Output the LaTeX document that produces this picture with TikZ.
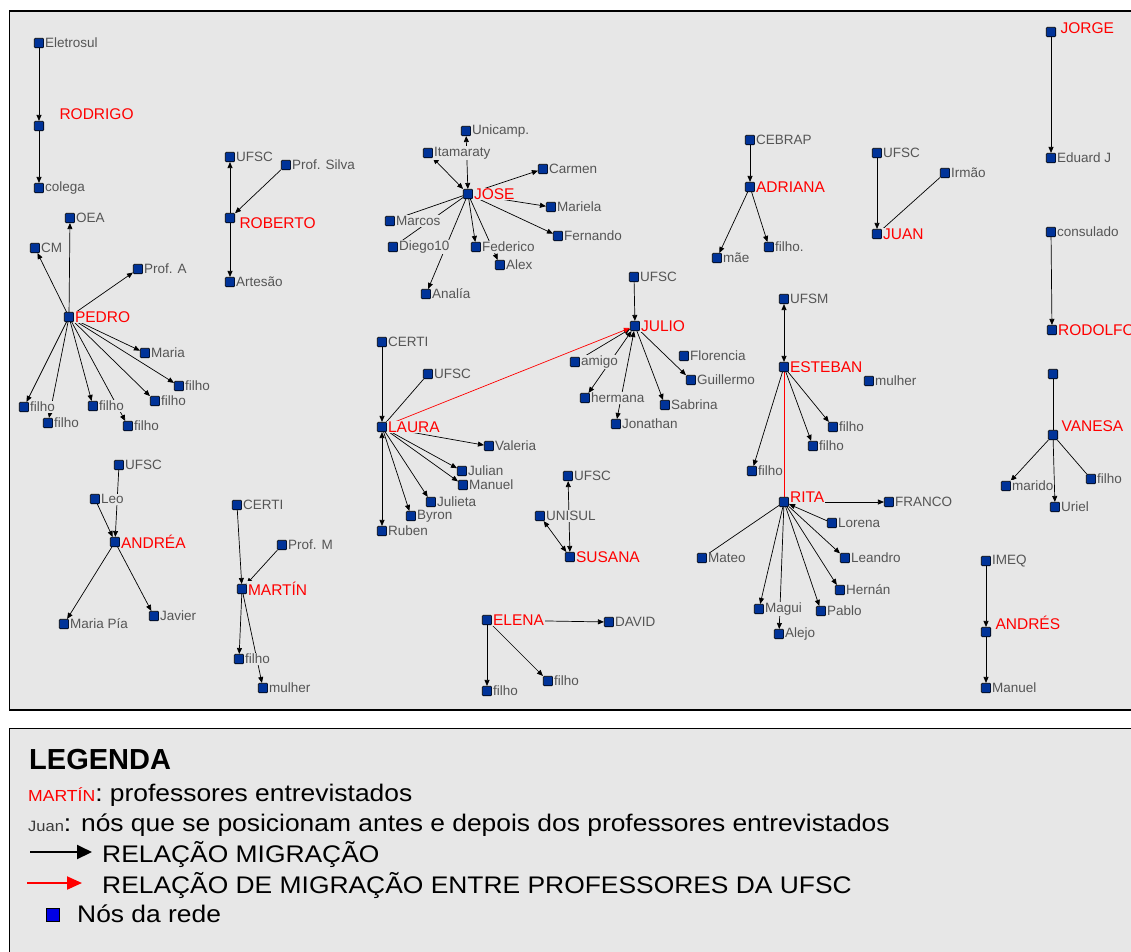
\documentclass[tikz,border=0pt]{standalone}
\usepackage{fontspec}
\setmainfont{Liberation Sans}
\usetikzlibrary{arrows.meta,backgrounds}
\definecolor{fundo}{RGB}{231,231,231}
\definecolor{azul}{RGB}{0,51,153}
\definecolor{cinza}{RGB}{85,85,85}
\definecolor{vermelho}{RGB}{255,0,0}
\definecolor{azulleg}{RGB}{0,0,230}

\begin{document}
\begin{tikzpicture}[x=1pt,y=-1pt,
  no/.style={draw=black,fill=azul,minimum size=9.5pt,inner sep=0pt,rounded corners=1pt,line width=0.6pt,label distance=1pt},
  nome/.style={text=cinza,font=\fontsize{13.5}{14}\selectfont,fill=fundo,inner sep=0.8pt},
  prof/.style={text=vermelho,font=\fontsize{15.5}{16}\selectfont,fill=fundo,inner sep=0.8pt},
  mig/.style={line width=0.7pt,-{Triangle[length=6pt,width=5pt]}},
  mig2/.style={line width=0.7pt,{Triangle[length=6pt,width=5pt]}-{Triangle[length=6pt,width=5pt]}},
  lig/.style={line width=0.7pt},
  ufsc/.style={line width=0.7pt,vermelho,-{Triangle[length=6pt,width=5pt]}}]
\useasboundingbox (0,0) rectangle (1131,951);

% nos da rede
\node[no,label={[nome]right:Eletrosul}] (eletrosul) at (39,43) {};
\node[no,label={[prof,xshift=14.5pt,yshift=12pt]right:RODRIGO}] (rodrigo) at (39,126) {};
\node[no,label={[nome]right:colega}] (colega) at (39,188) {};

\node[no,label={[nome]right:OEA}] (oea) at (70,218) {};
\node[no,label={[nome]right:CM}] (cm) at (35,248) {};
\node[no,label={[nome]right:Prof. A}] (profa) at (138,269) {};
\node[no,label={[prof]right:PEDRO}] (pedro) at (69,317) {};
\node[no,label={[nome]right:Maria}] (maria) at (145,353) {};
\node[no,label={[nome]right:filho}] (pfilho1) at (179,386) {};
\node[no,label={[nome]right:filho}] (pfilho2) at (155,401) {};
\node[no,label={[nome]right:filho}] (pfilho3) at (93,406) {};
\node[no,label={[nome]right:filho}] (pfilho4) at (24,407) {};
\node[no,label={[nome]right:filho}] (pfilho5) at (48,423) {};
\node[no,label={[nome]right:filho}] (pfilho6) at (128,426) {};

\node[no,label={[nome]right:UFSC}] (ufscR) at (230,157) {};
\node[no,label={[nome]right:Prof. Silva}] (silva) at (286,165) {};
\node[no,label={[prof,xshift=3.5pt,yshift=-5pt]right:ROBERTO}] (roberto) at (230,218) {};
\node[no,label={[nome]right:Artesão}] (artesao) at (230,282) {};

\node[no,label={[nome]right:Unicamp.}] (unicamp) at (466,131) {};
\node[no,label={[nome]right:Itamaraty}] (itamaraty) at (428,153) {};
\node[no,label={[prof]right:JOSE}] (jose) at (468,194) {};
\node[no,label={[nome]right:Carmen}] (carmen) at (543,169) {};
\node[no,label={[nome]right:Mariela}] (mariela) at (551,207) {};
\node[no,label={[nome]right:Marcos}] (marcos) at (390,221) {};
\node[no,label={[nome]right:Fernando}] (fernando) at (558,236) {};
\node[no,label={[nome]right:Diego10}] (diego) at (393,247) {};
\node[no,label={[nome]right:Federico}] (federico) at (476,247) {};
\node[no,label={[nome]right:Alex}] (alex) at (500,265) {};
\node[no,label={[nome]right:Analía}] (analia) at (426,294) {};

\node[no,label={[nome]right:CEBRAP}] (cebrap) at (750,140) {};
\node[no,label={[prof]right:ADRIANA}] (adriana) at (750,187) {};
\node[no,label={[nome]right:mãe}] (mae) at (717,258) {};
\node[no,label={[nome]right:filho.}] (afilho) at (769,247) {};

\node[no,label={[nome]right:UFSC}] (ufscJ) at (877,153) {};
\node[no,label={[nome]right:Irmão}] (irmao) at (945,173) {};
\node[no,label={[prof]right:JUAN}] (juan) at (877,234) {};

\node[no,label={[prof,xshift=3.5pt,yshift=4pt]right:JORGE}] (jorge) at (1051,32) {};
\node[no,label={[nome]right:Eduard J}] (eduard) at (1051,158) {};
\node[no,label={[nome]right:consulado}] (consulado) at (1051,232) {};
\node[no,label={[prof]right:RODOLFO}] (rodolfo) at (1052,330) {};
\node[no] (vsem) at (1053,374) {};
\node[no,label={[prof,xshift=2.5pt,yshift=9pt]right:VANESA}] (vanesa) at (1053,435) {};
\node[no,label={[nome]right:marido}] (marido) at (1006,486) {};
\node[no,label={[nome]right:filho}] (vfilho) at (1091,479) {};
\node[no,label={[nome]right:Uriel}] (uriel) at (1055,507) {};

\node[no,label={[nome]right:UFSC}] (ufscJu) at (634,277) {};
\node[no,label={[prof]right:JULIO}] (julio) at (635,326) {};
\node[no,label={[nome]right:amigo}] (amigo) at (575,362) {};
\node[no,label={[nome]right:Florencia}] (florencia) at (684,356) {};
\node[no,label={[nome]right:Guillermo}] (guillermo) at (691,380) {};
\node[no,label={[nome]right:hermana}] (hermana) at (585,398) {};
\node[no,label={[nome]right:Sabrina}] (sabrina) at (665,405) {};
\node[no,label={[nome]right:Jonathan}] (jonathan) at (616,424) {};

\node[no,label={[nome]right:CERTI}] (certiL) at (382,342) {};
\node[no,label={[nome]right:UFSC}] (ufscL) at (428,374) {};
\node[no,label={[prof]right:LAURA}] (laura) at (382,427) {};
\node[no,label={[nome]right:Valeria}] (valeria) at (489,446) {};
\node[no,label={[nome]right:Julian}] (julian) at (462,471) {};
\node[no,label={[nome]right:Manuel}] (manuel) at (463,485) {};
\node[no,label={[nome]right:Julieta}] (julieta) at (431,502) {};
\node[no,label={[nome]right:Byron}] (byron) at (411,516) {};
\node[no,label={[nome]right:Ruben}] (ruben) at (382,531) {};

\node[no,label={[nome]right:UFSC}] (ufscS) at (568,476) {};
\node[no,label={[nome]right:UNISUL}] (unisul) at (540,516) {};
\node[no,label={[prof]right:SUSANA}] (susana) at (570,557) {};

\node[no,label={[prof]right:ELENA}] (elena) at (487,620) {};
\node[no,label={[nome]right:DAVID}] (david) at (609,622) {};
\node[no,label={[nome]right:filho}] (efilho1) at (487,691) {};
\node[no,label={[nome]right:filho}] (efilho2) at (548,681) {};

\node[no,label={[nome]right:UFSM}] (ufsm) at (784,299) {};
\node[no,label={[prof]right:ESTEBAN}] (esteban) at (784,367) {};
\node[no,label={[nome]right:mulher}] (mulher) at (869,381) {};
\node[no,label={[nome]right:filho}] (efilho3) at (833,427) {};
\node[no,label={[nome]right:filho}] (efilho4) at (813,446) {};
\node[no,label={[nome]right:filho}] (efilho5) at (752,471) {};
\node[no,label={[prof,yshift=5pt]right:RITA}] (rita) at (784,502) {};
\node[no,label={[nome]right:FRANCO}] (franco) at (889,502) {};
\node[no,label={[nome]right:Lorena}] (lorena) at (832,523) {};
\node[no,label={[nome]right:Mateo}] (mateo) at (702,558) {};
\node[no,label={[nome]right:Leandro}] (leandro) at (845,558) {};
\node[no,label={[nome]right:Hernán}] (hernan) at (840,590) {};
\node[no,label={[nome]right:Magui}] (magui) at (759,609) {};
\node[no,label={[nome]right:Pablo}] (pablo) at (821,611) {};
\node[no,label={[nome]right:Alejo}] (alejo) at (779,634) {};

\node[no,label={[nome]right:IMEQ}] (imeq) at (986,561) {};
\node[no,label={[prof,xshift=3.5pt,yshift=9pt]right:ANDRÉS}] (andres) at (986,632) {};
\node[no,label={[nome]right:Manuel}] (amanuel) at (986,688) {};

\node[no,label={[nome]right:UFSC}] (ufscA) at (119,465) {};
\node[no,label={[nome]right:Leo}] (leo) at (95,499) {};
\node[no,label={[prof]right:ANDRÉA}] (andrea) at (115,542) {};
\node[no,label={[nome]right:Maria Pía}] (mariapia) at (64,624) {};
\node[no,label={[nome]right:Javier}] (javier) at (154,616) {};

\node[no,label={[nome]right:CERTI}] (certiM) at (237,505) {};
\node[no,label={[nome]right:Prof. M}] (profm) at (282,545) {};
\node[no,label={[prof]right:MARTÍN}] (martin) at (242,589) {};
\node[no,label={[nome]right:filho}] (mfilho) at (239,659) {};
\node[no,label={[nome]right:mulher}] (mmulher) at (263,688) {};

% legenda
\node[anchor=base west,inner sep=0pt,font=\bfseries\fontsize{29}{30}\selectfont] (legenda) at (29,769) {LEGENDA};
\node[anchor=base west,inner sep=0pt] (leg1) at (28,801) {\scalebox{1.1}[1]{{\fontsize{16}{16}\selectfont\color{vermelho}MARTÍN}\fontsize{24}{24}\selectfont: professores entrevistados}};
\node[anchor=base west,inner sep=0pt] (leg2) at (28,831) {\scalebox{1.1}[1]{{\fontsize{15}{15}\selectfont\color{cinza!70!black}Juan}\fontsize{24}{24}\selectfont: nós que se posicionam antes e depois dos professores entrevistados}};
\node[anchor=base west,inner sep=0pt] (leg3) at (102,862) {\scalebox{1.1}[1]{\fontsize{24}{24}\selectfont RELAÇÃO MIGRAÇÃO}};
\node[anchor=base west,inner sep=0pt] (leg4) at (102,893) {\scalebox{1.1}[1]{\fontsize{24}{24}\selectfont RELAÇÃO DE MIGRAÇÃO ENTRE PROFESSORES DA UFSC}};
\node[draw=black,fill=azulleg,minimum size=13pt,inner sep=0pt,line width=0.8pt] (legno) at (53,915) {};
\node[anchor=base west,inner sep=0pt] (leg5) at (77,922) {\scalebox{1.1}[1]{\fontsize{24}{24}\selectfont Nós da rede}};
\coordinate (setaA) at (30,852);
\coordinate (setaB) at (27,883);

\begin{pgfonlayer}{background}
\fill[white] (0,0) rectangle (1131,951);
\draw[line width=1.5pt,fill=fundo] (9.5,11) rectangle (1140,710);
\draw[line width=1.5pt,fill=fundo] (9.5,728.5) rectangle (1140,960);

\draw[mig] (eletrosul) -- (rodrigo);
\draw[mig] (rodrigo) -- (colega);

\draw[mig] (pedro) -- (oea);
\draw[mig] (pedro) -- (cm);
\draw[mig] (pedro) -- (profa);
\draw[mig] (pedro) -- (maria);
\foreach \f in {pfilho1,pfilho2,pfilho3,pfilho4,pfilho5,pfilho6}
  \draw[mig] (pedro) -- (\f);

\draw[mig] (roberto) -- (ufscR);
\draw[mig] (silva) -- (roberto);
\draw[mig] (roberto) -- (artesao);

\draw[mig2] (jose) -- (unicamp);
\draw[mig2] (jose) -- (itamaraty);
\draw[lig] (jose) -- (marcos);
\draw[lig] (jose) -- (diego);
\foreach \f in {carmen,mariela,fernando,federico,alex,analia}
  \draw[mig] (jose) -- (\f);

\draw[mig] (cebrap) -- (adriana);
\draw[mig] (adriana) -- (mae);
\draw[mig] (adriana) -- (afilho);

\draw[mig] (ufscJ) -- (juan);
\draw[lig] (irmao) -- (juan);

\draw[mig] (jorge) -- (eduard);
\draw[mig] (consulado) -- (rodolfo);
\draw[lig] (vsem) -- (vanesa);
\draw[mig] (vanesa) -- (marido);
\draw[mig] (vanesa) -- (uriel);
\draw[lig] (vanesa) -- (vfilho);

\draw[mig] (ufscJu) -- (julio);
\draw[mig] (amigo) -- (julio);
\draw[mig2] (julio) -- (hermana);
\draw[mig2] (julio) -- (jonathan);
\draw[mig] (julio) -- (sabrina);
\draw[mig] (julio) -- (guillermo);

\draw[mig] (certiL) -- (laura);
\draw[lig] (ufscL) -- (laura);
\foreach \f in {valeria,julian,manuel,julieta,byron}
  \draw[mig] (laura) -- (\f);
\draw[mig2] (laura) -- (ruben);
\draw[ufsc] (laura) -- (julio);

\draw[mig2] (susana) -- (ufscS);
\draw[mig2] (susana) -- (unisul);

\draw[mig] (elena) -- (david);
\draw[mig] (elena) -- (efilho1);
\draw[mig] (elena) -- (efilho2);

\draw[mig2] (esteban) -- (ufsm);
\draw[mig] (esteban) -- (efilho3);
\draw[mig] (esteban) -- (efilho4);
\draw[mig] (esteban) -- (efilho5);
\draw[line width=0.7pt,vermelho] (esteban) -- (rita);

\draw[mig] (rita) -- (franco);
\draw[mig] (lorena) -- (rita);
\draw[lig] (rita) -- (mateo);
\foreach \f in {magui,alejo,pablo,hernan,leandro}
  \draw[mig] (rita) -- (\f);

\draw[mig] (imeq) -- (andres);
\draw[mig] (andres) -- (amanuel);

\draw[mig] (ufscA) -- (andrea);
\draw[mig] (leo) -- (andrea);
\draw[mig] (andrea) -- (mariapia);
\draw[mig] (andrea) -- (javier);

\draw[mig] (certiM) -- (martin);
\draw[mig] (profm) -- (martin);
\draw[mig] (martin) -- (mfilho);
\draw[mig] (martin) -- (mmulher);

\draw[line width=2pt,-{Triangle[length=15pt,width=14pt]}] (setaA) -- ++(62,0);
\draw[line width=2pt,vermelho,-{Triangle[length=15pt,width=13pt]}] (setaB) -- ++(55,0);
\end{pgfonlayer}
\end{tikzpicture}
\end{document}
